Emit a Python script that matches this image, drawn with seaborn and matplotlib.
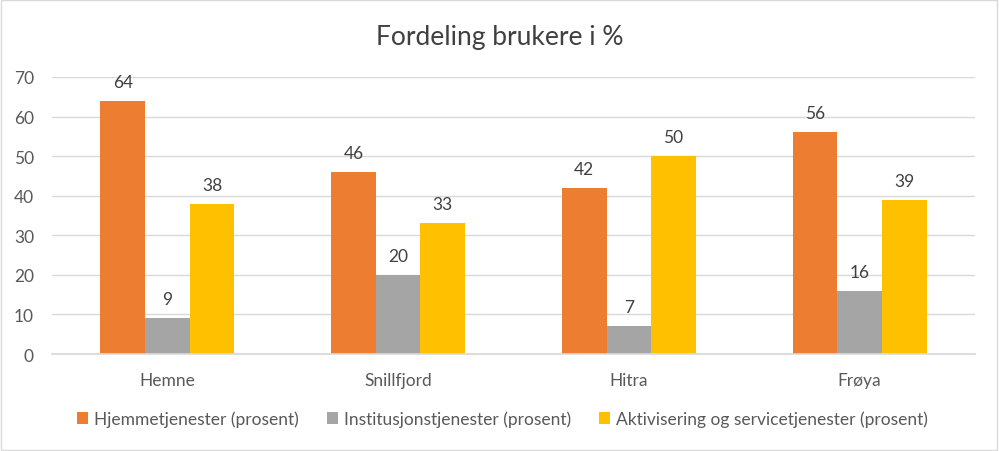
import matplotlib
matplotlib.use("Agg")
import matplotlib.pyplot as plt
import seaborn as sns
import pandas as pd

kommuner = ["Hemne", "Snillfjord", "Hitra", "Frøya"]
hjemme = [64, 46, 42, 56]
institusjon = [9, 20, 7, 16]
aktivisering = [38, 33, 50, 39]
series = ["Hjemmetjenester (prosent)", "Institusjonstjenester (prosent)",
          "Aktivisering og servicetjenester (prosent)"]
colors = ["#ED7D31", "#A5A5A5", "#FFC000"]

rows = []
for s, vals in zip(series, [hjemme, institusjon, aktivisering]):
    for k, v in zip(kommuner, vals):
        rows.append({"Kommune": k, "Serie": s, "Verdi": v})
df = pd.DataFrame(rows)

sns.set_theme(style="white")
plt.rcParams['font.family'] = ['Lato', 'DejaVu Sans']

fig = plt.figure(figsize=(9.99, 4.52), dpi=100)
ax = fig.add_axes([52/999, 1-355/452, (975-52)/999, (355-78)/452])
sns.barplot(data=df, x="Kommune", y="Verdi", hue="Serie", palette=colors,
            width=0.58, saturation=1, ax=ax, legend=True, errorbar=None,
            linewidth=0, edgecolor="none")

ax.set_ylim(0, 70)
ax.set_yticks(range(0, 71, 10))
ax.yaxis.grid(True, color="#D9D9D9", linewidth=1)
ax.set_axisbelow(True)
for sp in ["top", "right", "left"]:
    ax.spines[sp].set_visible(False)
ax.spines["bottom"].set_color("#D9D9D9")
ax.tick_params(axis="both", length=0, colors="#595959", labelsize=12.5)
ax.tick_params(axis="x", pad=13)
ax.tick_params(axis="y", pad=13)
ax.set_xlabel("")
ax.set_ylabel("")

for c in ax.containers:
    ax.bar_label(c, padding=8, fontsize=12.5, color="#404040")

h, l = ax.get_legend_handles_labels()
ax.legend_.remove()
fig.legend(h, l, loc="center", bbox_to_anchor=(0.503, 1-420/452), ncol=3,
           frameon=False, fontsize=12.5, handlelength=0.65, handleheight=0.65,
           columnspacing=1.6, handletextpad=0.35, labelcolor="#595959")

fig.text(0.5, 1-38/452, "Fordeling brukere i %", ha="center", va="center",
         fontsize=19, color="#404040")

fig.patches.append(plt.Rectangle((0.001, 0.002), 0.997, 0.995, transform=fig.transFigure,
                                 fill=False, edgecolor="#D9D9D9", linewidth=1))
fig.savefig("out.png", dpi=100)
